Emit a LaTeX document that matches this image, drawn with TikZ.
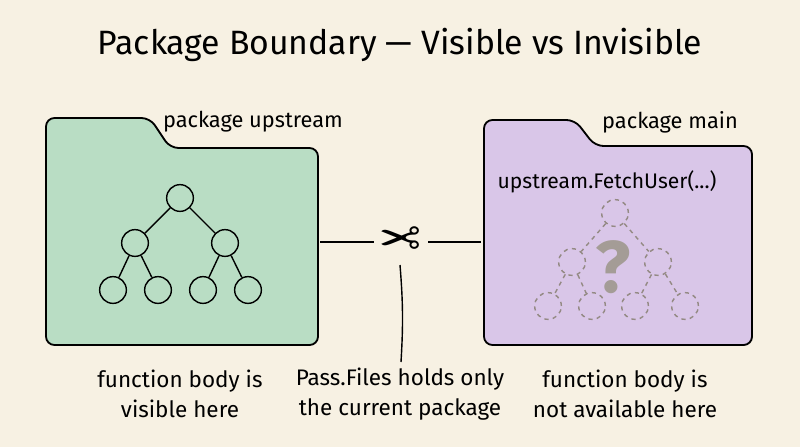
\documentclass[tikz,border=0pt]{standalone}
\usepackage{fontspec}
\setmainfont{Fira Sans}
\newfontfamily\symfont{DejaVu Sans}
\usetikzlibrary{positioning}
\definecolor{paper}{HTML}{F7F1E3}
\definecolor{upgreen}{HTML}{B9DDC4}
\definecolor{mainpurple}{HTML}{D9C6E8}
\definecolor{ghost}{HTML}{948A84}
\tikzset{
  folder/.style={draw=black, line width=1.3pt, rounded corners=6pt},
  tnode/.style={circle, draw=black, line width=1pt, minimum size=19pt, inner sep=0pt},
  gnode/.style={circle, draw=ghost, dashed, line width=1pt, minimum size=19pt, inner sep=0pt},
  caption/.style={font=\fontsize{16}{21}\selectfont, align=center},
}
\begin{document}
\begin{tikzpicture}[x=0.025cm, y=-0.025cm]
\fill[paper] (0,0) rectangle (800,447);
\useasboundingbox (0,0) rectangle (800,447);
%title
\node[font=\fontsize{24}{28}\selectfont] (title) at (400,45) {Package Boundary — Visible vs Invisible};
%left folder
\draw[folder, fill=upgreen] (46,345) -- (46,118) -- (150,118) -- (170,148) -- (318,148) -- (318,345) -- cycle;
\node[font=\fontsize{15.5}{19}\selectfont] (uplabel) at (253,122) {package upstream};
%left tree
\node[tnode] (r) at (180,198) {};
\node[tnode] (a) at (135,243) {};
\node[tnode] (b) at (225,243) {};
\node[tnode] (a1) at (113,290) {};
\node[tnode] (a2) at (158,290) {};
\node[tnode] (b1) at (203,290) {};
\node[tnode] (b2) at (248,290) {};
\foreach \p/\c in {r/a, r/b, a/a1, a/a2, b/b1, b/b2}
  \draw[line width=1pt] (\p) -- (\c);
%right folder
\draw[folder, fill=mainpurple] (484,345) -- (484,120) -- (575,120) -- (595,146) -- (752,146) -- (752,345) -- cycle;
\node[font=\fontsize{15.5}{19}\selectfont] (mainlabel) at (670,122) {package main};
\node[font=\fontsize{15}{19}\selectfont] (call) at (607,182) {upstream.FetchUser(...)};
%ghost tree
\node[text=ghost!85, font=\bfseries\fontsize{52}{52}\selectfont] (q) at (613,267) {?};
\node[gnode] (gr) at (615,213) {};
\node[gnode] (ga) at (572,262) {};
\node[gnode] (gb) at (658,262) {};
\node[gnode] (ga1) at (548,306) {};
\node[gnode] (ga2) at (592,306) {};
\node[gnode] (gb1) at (635,306) {};
\node[gnode] (gb2) at (685,306) {};
\foreach \p/\c in {gr/ga, gr/gb, ga/ga1, ga/ga2, gb/gb1, gb/gb2}
  \draw[ghost, dashed, line width=1pt] (\p) -- (\c);
%boundary with scissors
\node[font=\symfont\fontsize{36}{36}\selectfont, xscale=-1, inner sep=1pt] (cut) at (400,242) {✂};
\coordinate (lend) at (320,242);
\coordinate (rend) at (481,242);
\draw[line width=1pt] (lend) -- (374,242);
\draw[line width=1pt] (428,242) -- (rend);
\coordinate (ptr) at (401,362);
\draw[line width=1pt] (400,265) to[bend left=4] (ptr);
%captions
\node[caption] (capl) at (180,394) {function body is\\visible here};
\node[caption] (capm) at (400,394) {Pass.Files holds only\\the current package};
\node[caption] (capr) at (625,394) {function body is\\not available here};
\end{tikzpicture}
\end{document}
